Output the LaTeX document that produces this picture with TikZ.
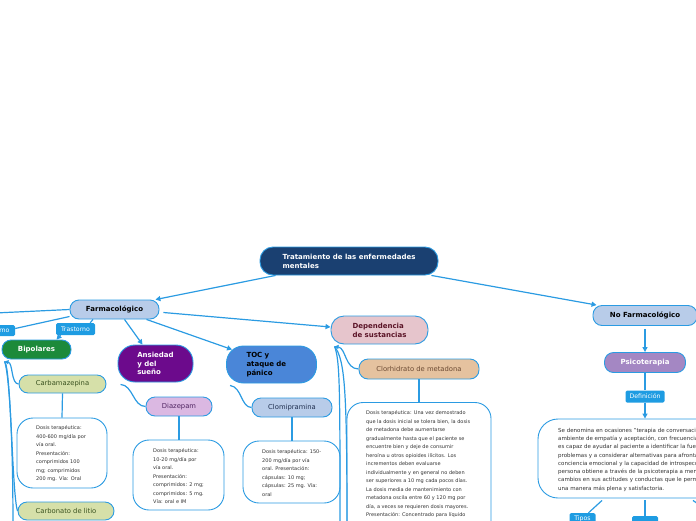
\documentclass[tikz,border=0pt]{standalone}
\usepackage{fontspec}
\setmainfont{DejaVu Sans}
\usetikzlibrary{arrows.meta,calc}
\definecolor{lineblue}{HTML}{2B9BE2}
\definecolor{rootblue}{HTML}{1A4071}
\definecolor{farmblue}{HTML}{B8CCE9}
\definecolor{bipgreen}{HTML}{1C8A3A}
\definecolor{anspurple}{HTML}{6C0A8C}
\definecolor{tocblue}{HTML}{4A86D8}
\definecolor{deppink}{HTML}{E6C5CC}
\definecolor{deptext}{HTML}{5B1427}
\definecolor{carbfill}{HTML}{D6E0A9}
\definecolor{carbtext}{HTML}{3A5220}
\definecolor{diazfill}{HTML}{DBB8E2}
\definecolor{diaztext}{HTML}{4E2360}
\definecolor{clomitext}{HTML}{1F2F4F}
\definecolor{clorhfill}{HTML}{E5C29F}
\definecolor{clorhtext}{HTML}{6B4A33}
\definecolor{psicofill}{HTML}{A487C3}
\definecolor{lblblue}{HTML}{1E9CE2}
\definecolor{dosegray}{HTML}{333333}
\begin{document}
\begin{tikzpicture}[x=1pt,y=-1pt,
  conn/.style={draw=lineblue, line width=1.2pt},
  arr/.style={conn, -{Triangle[length=5pt,width=5pt]}},
  rarr/.style={conn, {Triangle[length=4pt,width=4pt]}-},
  mainbox/.style={draw=lineblue, line width=0.9pt, rounded corners=9pt, inner sep=0pt,
    font=\fontsize{7}{8.8}\selectfont\bfseries},
  subbox/.style={draw=lineblue, line width=0.9pt, rounded corners=9pt, inner sep=0pt,
    font=\fontsize{6.8}{8}\selectfont},
  lbl/.style={fill=lblblue, text=white, rounded corners=1.5pt, inner sep=0pt,
    font=\fontsize{6.2}{7}\selectfont},
  dosebox/.style={draw=lineblue, line width=0.9pt, rounded corners=16pt, fill=white},
  dosetext/.style={font=\fontsize{5}{8.5}\selectfont, text=dosegray, align=left,
    inner sep=0pt, anchor=north west},
]
\useasboundingbox (0,0) rectangle (696,520);

% main nodes
\node[mainbox, fill=rootblue, text=white, rounded corners=13pt, minimum width=178, minimum height=28, align=left] (root) at (349,261) {Tratamiento de las enfermedades\\mentales};
\node[mainbox, fill=farmblue, minimum width=89, minimum height=19] (farm) at (114.5,309.5) {Farmacológico};
\node[mainbox, fill=farmblue, minimum width=104, minimum height=20] (nofarm) at (645,315.5) {No Farmacológico};
\node[mainbox, fill=deppink, text=deptext, rounded corners=13pt, minimum width=97, minimum height=28, align=left] (dep) at (379.5,330) {Dependencia\\de sustancias};
\node[mainbox, fill=psicofill, text=white, minimum width=81, minimum height=20] (psico) at (645,362.5) {Psicoterapia};
\node[mainbox, fill=bipgreen, text=white, minimum width=69, minimum height=19] (bip) at (36.5,349.5) {Bipolares};
\node[mainbox, fill=anspurple, text=white, rounded corners=17pt, minimum width=75, minimum height=37, align=left] (ans) at (155.5,363.5) {Ansiedad\\y del\\sueño};
\node[mainbox, fill=tocblue, text=black, rounded corners=17pt, minimum width=90, minimum height=37, text width=50, inner xsep=20, align=left] (toc) at (271.5,364.5) {TOC y\\ataque de\\pánico};

% labels
\node[lbl, minimum width=40, minimum height=11] (t1) at (-5,330.5) {Trastorno};
\node[lbl, minimum width=39, minimum height=12] (t2) at (75.5,329) {Trastorno};
\node[lbl, minimum width=39, minimum height=12] (deflbl) at (645,396.5) {Definición};
\node[lbl, minimum width=26, minimum height=12] (tipos1) at (582.5,519) {Tipos};
\node[lbl, minimum width=26, minimum height=12] (tipos2) at (645,522) {};

% sub nodes
\node[subbox, fill=carbfill, text=carbtext, minimum width=87, minimum height=18] (carb) at (62.5,384) {Carbamazepina};
\node[subbox, fill=carbfill, text=carbtext, minimum width=96, minimum height=18] (litio) at (66,511) {Carbonato de litio};
\node[subbox, fill=diazfill, text=diaztext, minimum width=66, minimum height=19] (diaz) at (179,406.5) {Diazepam};
\node[subbox, fill=farmblue, text=clomitext, minimum width=80, minimum height=19] (clomi) at (292,407.5) {Clomipramina};
\node[subbox, fill=clorhfill, text=clorhtext, minimum width=120, minimum height=20] (clorh) at (419,369) {Clorhidrato de metadona};

% dose boxes
\node[dosebox, minimum width=90, minimum height=70] (carbbox) at (62,453) {};
\node[dosetext] (carbtxt) at (36,425.3) {Dosis terapéutica:\\400-600 mg/día por\\vía oral.\\Presentación:\\comprimidos 100\\mg; comprimidos\\200 mg. Vía: Oral};
\node[dosebox, minimum width=91, minimum height=70] (diazbox) at (178.5,475) {};
\node[dosetext] (diaztxt) at (153,448.3) {Dosis terapéutica:\\10-20 mg/día por\\vía oral.\\Presentación:\\comprimidos: 2 mg;\\comprimidos: 5 mg.\\Vía: oral e IM};
\node[dosebox, minimum width=97, minimum height=62] (clomibox) at (291.5,472) {};
\node[dosetext] (clomitxt) at (262,449.3) {Dosis terapéutica: 150-\\200 mg/día por vía\\oral. Presentación:\\cápsulas: 10 mg;\\cápsulas: 25 mg. Vía:\\oral};
\node[dosebox, minimum width=144, minimum height=160] (metbox) at (419,482.5) {};
\node[dosetext] (mettxt) at (366,410.3) {Dosis terapéutica: Una vez demostrado\\que la dosis inicial se tolera bien, la dosis\\de metadona debe aumentarse\\gradualmente hasta que el paciente se\\encuentre bien y deje de consumir\\heroína u otros opioides ilícitos. Los\\incrementos deben evaluarse\\individualmente y en general no deben\\ser superiores a 10 mg cada pocos días.\\La dosis media de mantenimiento con\\metadona oscila entre 60 y 120 mg por\\día, a veces se requieren dosis mayores.\\Presentación: Concentrado para líquido};
\node[dosebox, rounded corners=20pt, minimum width=214, minimum height=79] (defbox) at (645,458.5) {};
\node[dosetext, font=\fontsize{5.5}{8.25}\selectfont] (deftxt) at (558,427.8) {Se denomina en ocasiones "terapia de conversación"\\ambiente de empatía y aceptación, con frecuencia\\es capaz de ayudar al paciente a identificar la fuente\\problemas y a considerar alternativas para afrontarlos.\\conciencia emocional y la capacidad de introspección\\persona obtiene a través de la psicoterapia a menudo\\cambios en sus actitudes y conductas que le permiten\\una manera más plena y satisfactoria.};

% free ends
\coordinate (offl) at (-5,313);
\coordinate (offr) at (701,506);
\coordinate (offb1) at (13,530);
\coordinate (offd1) at (340,530);
\coordinate (offd2) at (347,530);

% connectors
\draw[arr] ([xshift=16pt]root.south west) -- ([xshift=-4pt]farm.north east);
\draw[arr] ([xshift=-7pt]root.south east) -- ([xshift=4pt]nofarm.north west);
\draw[conn] (farm.west) -- (offl);
\draw[conn] ([yshift=-7pt]farm.west) -- ([yshift=2pt]t1.east);
\draw[conn] ([xshift=-21.5pt]farm.south) -- ([xshift=-5pt]t2.north east);
\draw[arr] ([xshift=-15pt]t2.south) -- ([xshift=20pt]bip.north);
\draw[arr] ([xshift=10pt]farm.south) -- ([xshift=-13pt]ans.north);
\draw[arr] ([xshift=32pt]farm.south) -- ([shift={(6pt,-4pt)}]toc.north west);
\draw[arr] ([shift={(4pt,-3pt)}]farm.east) -- ([yshift=3pt]dep.west);
\draw[arr] ([yshift=-3pt]nofarm.south) -- (psico.north);
\draw[conn] (psico.south) -- (deflbl.north);
\draw[arr] (deflbl.south) -- (defbox.north);
\draw[conn] ([shift={(-43pt,-2pt)}]defbox.south) -- ([xshift=6pt]tipos1.north);
\draw[conn] ([yshift=-2pt]defbox.south) -- (tipos2.north);
\draw[conn] ([shift={(48pt,-2pt)}]defbox.south) -- (offr);

% Bipolares children
\draw[rarr] ([shift={(3pt,-2pt)}]bip.south west) .. controls (13,363) and (11,384) .. (carb.west);
\draw[conn] ([shift={(3pt,-2pt)}]bip.south west) .. controls (11,366) and (12,495) .. (litio.west);
\draw[conn] ([shift={(3pt,-2pt)}]bip.south west) .. controls (8,370) and (13,420) .. (offb1);
\draw[conn] (carb.south) -- (carbbox.north);

% Ansiedad / TOC children
\draw[conn] ([shift={(3pt,-2pt)}]ans.south west) .. controls (133,385) and (133,406.5) .. (diaz.west);
\draw[conn] (diaz.south) -- (diaz.south |- diazbox.north);
\draw[conn] ([shift={(4pt,-2pt)}]toc.south west) .. controls (242,387) and (241,407.5) .. (clomi.west);
\draw[conn] (clomi.south) -- (clomi.south |- clomibox.north);

% Dependencia children
\draw[rarr] ([shift={(4pt,-2pt)}]dep.south west) .. controls (346,348) and (345,369) .. (clorh.west);
\draw[conn] ([shift={(4pt,-2pt)}]dep.south west) .. controls (340,360) and (340,390) .. (offd1);
\draw[conn] ([shift={(4pt,-2pt)}]dep.south west) .. controls (345,360) and (347,390) .. (offd2);
\draw[conn] (clorh.south) -- (clorh.south |- metbox.north);
\end{tikzpicture}
\end{document}
